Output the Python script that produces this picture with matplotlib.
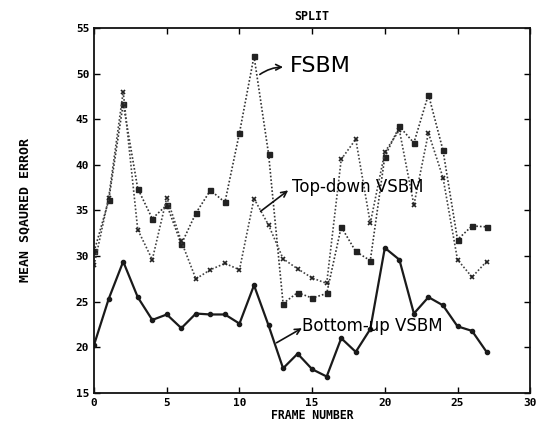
import matplotlib
matplotlib.use("Agg")
import matplotlib.pyplot as plt

frames = list(range(28))
fsbm = [30.5, 36.1, 46.7, 37.4, 34.1, 35.6, 31.3, 34.7, 37.2, 35.9, 43.5, 51.9, 41.2, 24.8,
        26.0, 25.4, 25.9, 33.2, 30.5, 29.5, 40.9, 44.2, 42.4, 47.7, 41.6, 31.8, 33.3, 33.2]
topdown = [29.0, 36.4, 48.0, 32.9, 29.6, 36.4, 31.6, 27.5, 28.5, 29.2, 28.5, 36.3, 33.4, 29.7,
           28.6, 27.6, 27.0, 40.6, 42.8, 33.6, 41.4, 43.8, 35.6, 43.5, 38.6, 29.6, 27.7, 29.4]
bottomup = [20.3, 25.3, 29.4, 25.5, 23.0, 23.6, 22.1, 23.7, 23.6, 23.6, 22.6, 26.8, 22.4, 17.7,
            19.3, 17.6, 16.8, 21.0, 19.5, 22.0, 30.9, 29.6, 23.7, 25.5, 24.6, 22.3, 21.8, 19.5]
xticks = [0, 5, 10, 15, 20, 25, 30]
yticks = [15, 20, 25, 30, 35, 40, 45, 50, 55]

mono = "DejaVu Sans Mono"
fig = plt.figure(figsize=(5.41, 4.29), dpi=100)
ax = fig.add_axes([0.174, 0.084, 0.806, 0.851])

ax.plot(frames, fsbm, color="#333333", linestyle=(0, (1, 1.2)), linewidth=1.2,
        marker="s", markersize=3.6, markerfacecolor="#222222", markeredgecolor="#222222")
ax.plot(frames, topdown, color="#444444", linestyle=(0, (1, 1.2)), linewidth=1.2,
        marker="x", markersize=3.5, markeredgecolor="#222222", markeredgewidth=1.2)
ax.plot(frames, bottomup, color="#1a1a1a", linestyle="-", linewidth=1.6,
        marker="o", markersize=3, markerfacecolor="#1a1a1a", markeredgecolor="#1a1a1a")

ax.set_xlim(0, 30)
ax.set_ylim(15, 55)
ax.set_xticks(xticks)
ax.set_yticks(yticks)
ax.tick_params(direction="in", top=True, right=True, length=4, width=1,
               labelsize=8)
for lab in ax.get_xticklabels() + ax.get_yticklabels():
    lab.set_fontfamily(mono)
    lab.set_fontweight("bold")
for s in ax.spines.values():
    s.set_linewidth(1.3)
    s.set_color("#111111")

ax.set_title("SPLIT", fontsize=8.4, fontfamily=mono, fontweight="bold", pad=6)
ax.set_xlabel("FRAME NUMBER", fontsize=8.3, fontfamily=mono, fontweight="bold", labelpad=1)
ax.set_ylabel("MEAN SQAURED ERROR", fontsize=9.5, fontfamily=mono, fontweight="bold", labelpad=32)

hand = "DejaVu Sans"
arrow = dict(arrowstyle="->", color="#111111", lw=1.2, shrinkA=0, shrinkB=0)

ax.text(13.5, 50.8, "FSBM", fontsize=16, fontfamily=hand, va="center", ha="left")
ax.annotate("", xy=(13.0, 50.7), xytext=(11.4, 49.9),
            arrowprops=dict(arrow, connectionstyle="arc3,rad=-0.15"))

ax.text(13.6, 37.6, "Top-down VSBM", fontsize=12, fontfamily=hand, va="center", ha="left")
ax.annotate("", xy=(13.35, 37.2), xytext=(11.45, 34.9), arrowprops=arrow)

ax.text(14.3, 22.3, "Bottom-up VSBM", fontsize=12, fontfamily=hand, va="center", ha="left")
ax.annotate("", xy=(14.3, 22.1), xytext=(12.55, 20.5), arrowprops=arrow)

fig.savefig("out.png", dpi=100)
